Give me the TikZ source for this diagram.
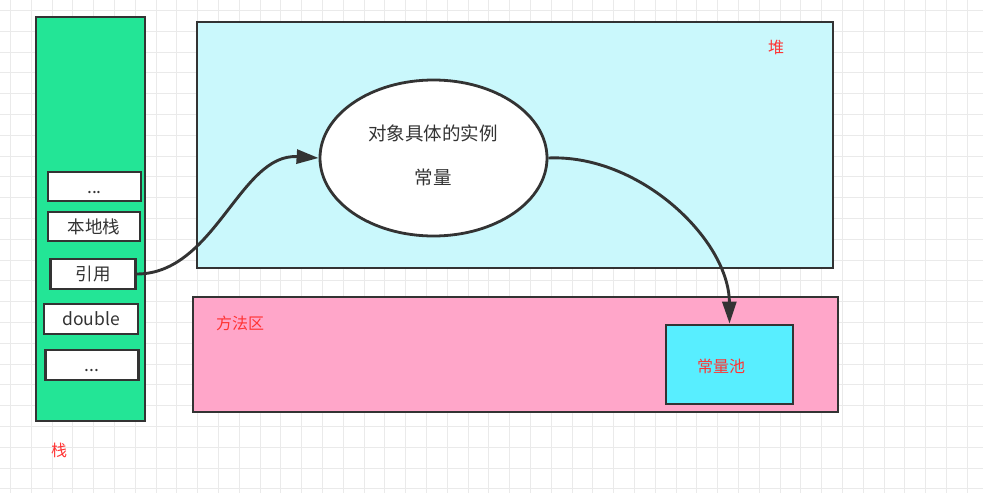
\documentclass[tikz,border=0pt]{standalone}
\usepackage{fontspec}
\newfontfamily\cjk{Noto Sans CJK SC}
\usetikzlibrary{arrows.meta,shapes.geometric}
\definecolor{stackgreen}{RGB}{35,229,150}
\definecolor{heapcyan}{RGB}{202,248,252}
\definecolor{methodpink}{RGB}{255,166,201}
\definecolor{poolcyan}{RGB}{88,238,255}
\definecolor{edge}{RGB}{51,51,51}
\definecolor{labelred}{RGB}{255,51,51}
\definecolor{gridminor}{RGB}{234,234,234}
\tikzset{
  region/.style={draw=edge, line width=2.8pt, rectangle, inner sep=0pt},
  cell/.style={draw=edge, line width=2.6pt, fill=white, rectangle, inner sep=0pt, font=\cjk\fontsize{17.5}{19}\selectfont, text=edge},
  redlabel/.style={font=\cjk\fontsize{16}{18}\selectfont, text=labelred, inner sep=0pt},
  blacktext/.style={font=\cjk\fontsize{18.5}{20}\selectfont, text=edge, inner sep=0pt},
  conn/.style={draw=edge, line width=2.9pt, -{Triangle[length=22pt,width=14pt]}},
}
\begin{document}
\begin{tikzpicture}[x=1pt,y=-1pt]
\useasboundingbox (0,0) rectangle (983,493);
\fill[white] (0,0) rectangle (983,493);
\foreach \i in {0,...,47} {
  \pgfmathsetmacro{\gx}{10.5+20.8*\i}
  \draw[gridminor, line width=0.9pt] (\gx,0) -- (\gx,493);
}
\foreach \i in {0,...,23} {
  \pgfmathsetmacro{\gy}{10.5+20.8*\i}
  \draw[gridminor, line width=0.9pt] (0,\gy) -- (983,\gy);
}

% stack
\node[region, fill=stackgreen, minimum width=109pt, minimum height=404pt] (stack) at (90.5,219) {};
\node[cell, minimum width=93pt, minimum height=29pt] (dotsA) at (94.5,186.5) {...\vphantom{本}};
\node[cell, minimum width=92pt, minimum height=29pt] (native) at (94,226.5) {本地栈};
\node[cell, minimum width=85pt, minimum height=30pt] (ref) at (93,274) {引用};
\node[cell, minimum width=94pt, minimum height=30pt] (dbl) at (91,319) {double};
\node[cell, minimum width=93pt, minimum height=30pt] (dotsB) at (92,365) {...\vphantom{本}};
\node[redlabel] (stacklabel) at (59,450) {栈};

% heap
\node[region, fill=heapcyan, minimum width=636pt, minimum height=246pt] (heap) at (515,145) {};
\node[redlabel] (heaplabel) at (776,47) {堆};
\node[ellipse, draw=edge, line width=2.8pt, fill=white, minimum width=227pt, minimum height=156pt, inner sep=0pt] (obj) at (433.5,158) {};
\node[blacktext] (objA) at (433,133) {对象具体的实例};
\node[blacktext] (objB) at (433,177) {常量};

% method area
\node[region, fill=methodpink, minimum width=645pt, minimum height=115pt] (method) at (515.5,354.5) {};
\node[redlabel] (methodlabel) at (240,323) {方法区};
\node[region, fill=poolcyan, minimum width=127pt, minimum height=79pt] (pool) at (729.5,364.5) {};
\node[redlabel] (poollabel) at (721,366) {常量池};

% connectors
\draw[conn] (ref.east) .. controls (215,274) and (240,153) .. (obj.west);
\draw[conn] (obj.east) .. controls (640,154) and (729,240) .. (pool.north);
\end{tikzpicture}
\end{document}
